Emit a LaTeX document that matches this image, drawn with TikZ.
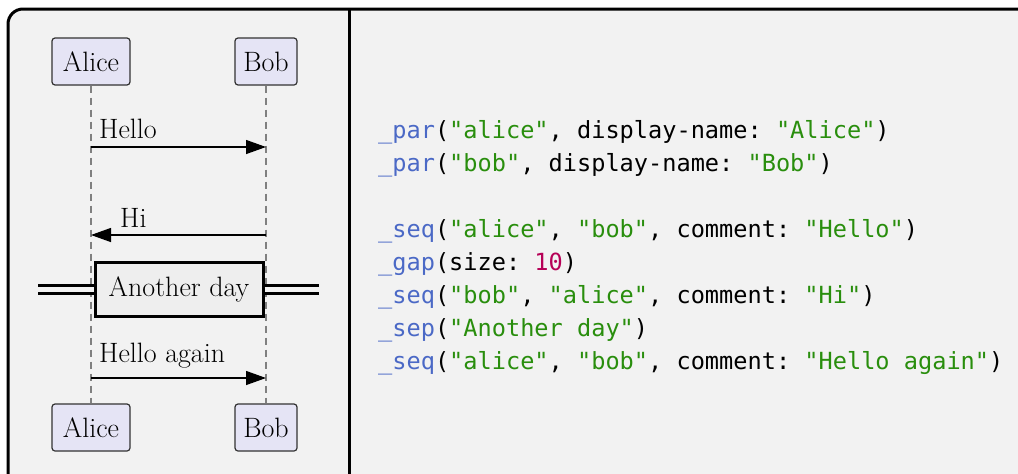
\documentclass[tikz,border=0pt]{standalone}
\usepackage{fontspec}
\setmonofont{DejaVu Sans Mono}
\usetikzlibrary{arrows.meta}
\definecolor{bg}{HTML}{F2F2F2}
\definecolor{actorfill}{HTML}{E5E4F5}
\definecolor{sepfill}{HTML}{EEEEEE}
\definecolor{kwblue}{HTML}{4B69C6}
\definecolor{strgreen}{HTML}{298E0D}
\definecolor{nummag}{HTML}{B60157}
\newcommand{\serifsz}{\fontsize{28}{32}\selectfont}
\newcommand{\monosz}{\fontsize{23.6}{28}\selectfont\ttfamily}
\newcommand{\kw}[1]{\textcolor{kwblue}{#1}}
\newcommand{\st}[1]{\textcolor{strgreen}{#1}}
\newcommand{\nm}[1]{\textcolor{nummag}{#1}}
\begin{document}
\begin{tikzpicture}[x=1pt,y=-1pt,
  actor/.style={draw=black!80, fill=actorfill, rounded corners=3pt, line width=1.2pt,
    minimum height=47pt, inner sep=0pt, font=\serifsz},
  life/.style={draw=black!50, dash pattern=on 7pt off 5pt, line width=1.2pt},
  msg/.style={draw=black, line width=1.3pt, -{Triangle[length=20pt,width=14pt]}},
  lbl/.style={anchor=base west, inner sep=0pt, font=\serifsz},
  sepbox/.style={draw=black, fill=sepfill, line width=3pt, minimum width=168pt,
    minimum height=54pt, inner sep=0pt, font=\serifsz},
  sepline/.style={draw=black, double=bg, double distance=5pt, line width=3pt},
  code/.style={anchor=base west, inner sep=0pt, font=\monosz}]
\useasboundingbox (0,0) rectangle (1018,474);
\clip (0,0) rectangle (1018,474);
\fill[white] (0,0) rectangle (1018,474);
\draw[line width=3pt, fill=bg, rounded corners=15pt] (8,9) rectangle (1050,520);
\coordinate (dtop) at (349,9);
\coordinate (dbot) at (349,520);
\draw[line width=3pt] (dtop) -- (dbot);
% actors
\node[actor, minimum width=78pt] (atop) at (91,61.5) {Alice};
\node[actor, minimum width=62pt] (btop) at (266,61.5) {Bob};
\node[actor, minimum width=78pt] (abot) at (91,427.5) {Alice};
\node[actor, minimum width=62pt] (bbot) at (266,427.5) {Bob};
\draw[life] (atop.south) -- (abot.north);
\draw[life] (btop.south) -- (bbot.north);
% messages
\coordinate (h1) at (91,147);
\coordinate (h2) at (266,147);
\draw[msg] (h1) -- (h2);
\node[lbl] (hello) at (99,138) {Hello};
\coordinate (i1) at (266,235);
\coordinate (i2) at (91,235);
\draw[msg] (i1) -- (i2);
\node[lbl] (hi) at (120,227) {Hi};
% separator
\coordinate (sl) at (38,289);
\coordinate (sr) at (319,289);
\node[sepbox] (sep) at (179,289) {Another day};
\draw[sepline] (sl) -- (sep.west);
\draw[sepline] (sep.east) -- (sr);
\coordinate (g1) at (91,378);
\coordinate (g2) at (266,378);
\draw[msg] (g1) -- (g2);
\node[lbl] (again) at (99,362) {Hello again};
% code
\node[code] (c1) at (378,138) {\kw{\_par}(\st{"alice"}, display-name: \st{"Alice"})};
\node[code] (c2) at (378,171) {\kw{\_par}(\st{"bob"}, display-name: \st{"Bob"})};
\node[code] (c4) at (378,237) {\kw{\_seq}(\st{"alice"}, \st{"bob"}, comment: \st{"Hello"})};
\node[code] (c5) at (378,270) {\kw{\_gap}(size: \nm{10})};
\node[code] (c6) at (378,303) {\kw{\_seq}(\st{"bob"}, \st{"alice"}, comment: \st{"Hi"})};
\node[code] (c7) at (378,336) {\kw{\_sep}(\st{"Another day"})};
\node[code] (c8) at (378,369) {\kw{\_seq}(\st{"alice"}, \st{"bob"}, comment: \st{"Hello again"})};
\end{tikzpicture}
\end{document}
